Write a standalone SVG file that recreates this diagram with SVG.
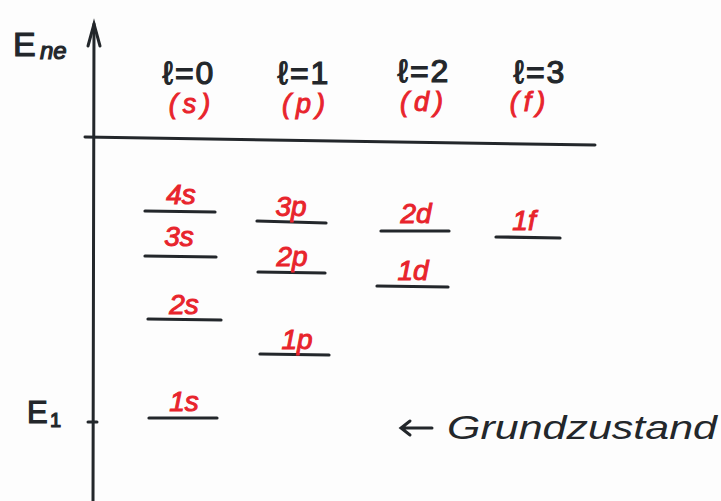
<svg xmlns="http://www.w3.org/2000/svg" width="721" height="501" viewBox="0 0 721 501">
<defs>
<style>
.ink{stroke:#23272b;stroke-width:3;stroke-linecap:round;fill:none}
.lvl{stroke:#23272b;stroke-width:3.2;stroke-linecap:round;fill:none}
.blk{font-family:"Liberation Sans","DejaVu Sans",sans-serif;fill:#23272b;stroke:#23272b;stroke-width:1.2}
.red{font-family:"Liberation Sans","DejaVu Sans",sans-serif;fill:#e8242c;stroke:#e8242c;stroke-width:1;font-style:italic}
.hdr{font-size:32px;text-anchor:middle;letter-spacing:2px}
.sub{font-size:27px;text-anchor:middle;letter-spacing:5px}
.lab{font-size:28px;text-anchor:middle}
</style>
</defs>
<rect width="721" height="501" fill="#fdfdfd"/>
<g id="axes">
<path class="ink" d="M93 501 L94 24"/>
<path class="ink" d="M88 46 L94 24 L100 46"/>
<path class="ink" d="M85 137 L595 145"/>
<path class="ink" d="M88 422 L97 422"/>
</g>
<g id="axis-labels">
<text class="blk" x="13" y="56" font-size="34">E</text>
<text class="blk" x="40" y="59" font-size="24" font-style="italic">ne</text>
<text class="blk" x="27" y="423" font-size="31">E</text>
<text class="blk" x="50" y="427" font-size="20">1</text>
</g>
<g id="headers">
<text class="blk hdr" x="189" y="84">ℓ=0</text>
<text class="blk hdr" x="304" y="84">ℓ=1</text>
<text class="blk hdr" x="424" y="82">ℓ=2</text>
<text class="blk hdr" x="540" y="83">ℓ=3</text>
<text class="red sub" x="192" y="113">(s)</text>
<text class="red sub" x="306" y="113">(p)</text>
<text class="red sub" x="424" y="111">(d)</text>
<text class="red sub" x="530" y="111">(f)</text>
</g>
<g id="connectors">
<path class="lvl" d="M145 211 L215 212"/>
<path class="lvl" d="M145 256 L216 257"/>
<path class="lvl" d="M148 319 L221 320"/>
<path class="lvl" d="M149 418 L217 418"/>
<path class="lvl" d="M257 221 L326 223"/>
<path class="lvl" d="M258 272 L325 273"/>
<path class="lvl" d="M260 354 L329 355"/>
<path class="lvl" d="M381 231 L449 231"/>
<path class="lvl" d="M377 286 L448 287"/>
<path class="lvl" d="M496 237 L560 238"/>
<path class="ink" d="M432 428 L401 428 M410 421 L401 428 L410 435" stroke-width="2.2"/>
</g>
<g id="level-4s"><text class="red lab" x="181" y="204">4s</text></g>
<g id="level-3s"><text class="red lab" x="179" y="246">3s</text></g>
<g id="level-2s"><text class="red lab" x="184" y="314">2s</text></g>
<g id="level-1s"><text class="red lab" x="184" y="411">1s</text></g>
<g id="level-3p"><text class="red lab" x="291" y="216">3p</text></g>
<g id="level-2p"><text class="red lab" x="292" y="266">2p</text></g>
<g id="level-1p"><text class="red lab" x="297" y="349">1p</text></g>
<g id="level-2d"><text class="red lab" x="416" y="223">2d</text></g>
<g id="level-1d"><text class="red lab" x="413" y="280">1d</text></g>
<g id="level-1f"><text class="red lab" x="524" y="230">1f</text></g>
<g id="ground-state"><text x="447" y="439" font-family="Liberation Sans, DejaVu Sans, sans-serif" font-size="34" font-style="italic" fill="#23272b" textLength="270" lengthAdjust="spacingAndGlyphs">Grundzustand</text></g>
</svg>
